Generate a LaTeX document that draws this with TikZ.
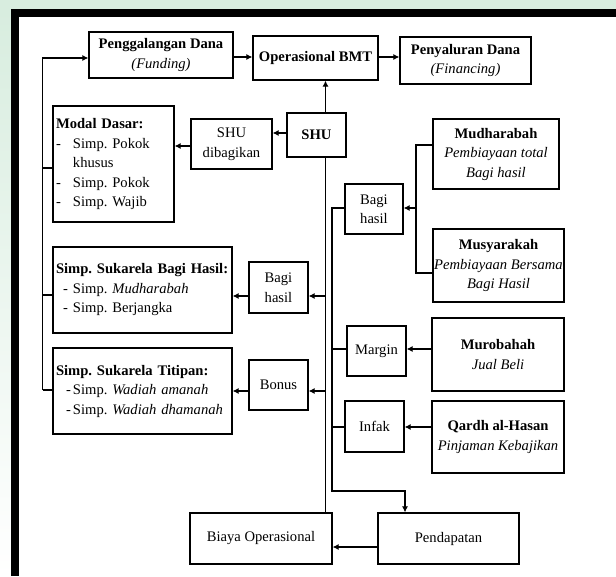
\documentclass[tikz,border=0pt]{standalone}
\usepackage{fontspec}
\setmainfont{Liberation Serif}
\usetikzlibrary{arrows.meta,calc}
\definecolor{wm}{HTML}{D8EDDF}
\frenchspacing
\begin{document}
\begin{tikzpicture}[x=1pt,y=-1pt,
  every node/.style={font=\fontsize{14.6pt}{19.5pt}\selectfont\frenchspacing},
  box/.style={draw,line width=1.2pt,inner xsep=0pt,inner ysep=1pt,align=center,anchor=center},
  lbox/.style={draw,line width=1.2pt,inner xsep=3pt,inner ysep=1pt,align=left,anchor=center},
  conn/.style={line width=1.1pt},
  arr/.style={line width=1.1pt,-{Latex[length=6pt,width=6pt]}}]
\useasboundingbox (0,0) rectangle (616,576);
\fill[white] (0,0) rectangle (616,576);
\fill[wm] (0,0) rectangle (616,9);
\shade[top color=wm,bottom color=white] (0,9) rectangle (11,576);
\fill[black] (11,9) rectangle (616,17);
\fill[black] (11,9) rectangle (19,576);

% top row
\node[box,minimum width=144pt,minimum height=46pt] (pg) at (161,55) {\textbf{Penggalangan Dana}\\\textit{(Funding)}};
\node[box,minimum width=125pt,minimum height=44pt] (ob) at (315.5,58) {\textbf{Operasional BMT}};
\node[box,minimum width=131pt,minimum height=47pt] (pd) at (465.5,60.5) {\textbf{Penyaluran Dana}\\\textit{(Financing)}};

% SHU
\node[box,minimum width=59pt,minimum height=44pt] (shu) at (316.5,135) {\textbf{SHU}};
\node[box,minimum width=81pt,minimum height=50pt] (shud) at (231.5,144) {SHU\\dibagikan};

% left column
\node[lbox,text width=115pt,minimum height=116pt] (md) at (113.5,164) {\textbf{Modal Dasar:}\\
\makebox[17pt][l]{-}Simp. Pokok\\
\hspace*{17pt}khusus\\
\makebox[17pt][l]{-}Simp. Pokok\\
\makebox[17pt][l]{-}Simp. Wajib};
\node[lbox,text width=173pt,minimum height=86pt] (sbh) at (142.5,290) {\textbf{Simp. Sukarela Bagi Hasil:}\\
\hspace*{7pt}\makebox[10pt][l]{-}Simp. \textit{Mudharabah}\\
\hspace*{7pt}\makebox[10pt][l]{-}Simp. Berjangka};
\node[lbox,text width=173pt,minimum height=86pt] (stt) at (142.5,391) {\textbf{Simp. Sukarela Titipan:}\\
\hspace*{10pt}\makebox[7pt][l]{-}Simp. \textit{Wadiah amanah}\\
\hspace*{10pt}\makebox[7pt][l]{-}Simp. \textit{Wadiah dhamanah}};

\node[box,minimum width=59pt,minimum height=51pt] (bh1) at (278.5,287.5) {Bagi\\hasil};
\node[box,minimum width=59pt,minimum height=50pt] (bon) at (278.5,385) {Bonus};

% right column
\node[box,minimum width=58pt,minimum height=50pt] (bh2) at (374,209) {Bagi\\hasil};
\node[box,minimum width=126pt,minimum height=70pt] (mud) at (496,154) {\textbf{Mudharabah}\\\textit{Pembiayaan total}\\\textit{Bagi hasil}};
\node[box,minimum width=131pt,minimum height=73pt] (mus) at (498.5,265.5) {\textbf{Musyarakah}\\\textit{Pembiayaan Bersama}\\\textit{Bagi Hasil}};
\node[box,minimum width=59pt,minimum height=50pt] (mar) at (376.5,351) {Margin};
\node[box,minimum width=132pt,minimum height=73pt] (mur) at (498,354.5) {\textbf{Murobahah}\\\textit{Jual Beli}};
\node[box,minimum width=59pt,minimum height=51pt] (inf) at (374.5,426.5) {Infak};
\node[box,minimum width=132pt,minimum height=72pt] (qar) at (498,437) {\textbf{Qardh al-Hasan}\\\textit{Pinjaman Kebajikan}};

% bottom
\node[box,minimum width=142pt,minimum height=51pt] (bo) at (261,538.5) {Biaya Operasional};
\node[box,minimum width=141pt,minimum height=51pt] (pen) at (448.5,538.5) {Pendapatan};

% coordinates
\coordinate (Ltop) at (42.7,58);
\coordinate (Lbot) at (42.7,390);
\coordinate (L1) at (42.7,168);
\coordinate (L2) at (42.7,295);
\coordinate (T) at (0,57);
\coordinate (V1) at (325.5,0);
\coordinate (V2) at (332,0);
\coordinate (B) at (416,0);
\coordinate (P) at (405,491);
\coordinate (Y133) at (0,133);
\coordinate (Y145) at (0,145);
\coordinate (Y146) at (0,146);
\coordinate (Y208) at (0,208);
\coordinate (Y273) at (0,273);
\coordinate (Y296) at (0,296);
\coordinate (Y349) at (0,349);
\coordinate (Y391) at (0,391);
\coordinate (Y427) at (0,427);
\coordinate (Y491) at (0,491);
\coordinate (Y547) at (0,547);

% left bracket
\draw[arr] (Lbot) -- (Ltop) -- (pg.west |- Ltop);
\draw[conn] (L1) -- (md.west |- L1);
\draw[conn] (L2) -- (sbh.west |- L2);
\draw[conn] (Lbot) -- (stt.west |- Lbot);

% top arrows
\draw[arr] (pg.east |- T) -- (ob.west |- T);
\draw[arr] (ob.east |- T) -- (pd.west |- T);

% SHU
\draw[arr] (shu.north -| V1) -- (ob.south -| V1);
\draw[conn] (shu.south -| V1) -- (bo.north -| V1);
\draw[arr] (shu.west |- Y133) -- (shud.east |- Y133);
\draw[arr] (shud.west |- Y146) -- (md.east |- Y146);
\draw[arr] (V1 |- Y296) -- (bh1.east |- Y296);
\draw[arr] (bh1.west |- Y296) -- (sbh.east |- Y296);
\draw[arr] (V1 |- Y391) -- (bon.east |- Y391);
\draw[arr] (bon.west |- Y391) -- (stt.east |- Y391);

% income side
\draw[arr] (bh2.west |- Y208) -- (V2 |- Y208) -- (V2 |- Y491) -- (P) -- (pen.north -| P);
\draw[conn] (V2 |- Y349) -- (mar.west |- Y349);
\draw[conn] (V2 |- Y427) -- (inf.west |- Y427);
\draw[conn] (mud.west |- Y145) -- (B |- Y145) -- (B |- Y273) -- (mus.west |- Y273);
\draw[arr] (B |- Y208) -- (bh2.east |- Y208);
\draw[arr] (mur.west |- Y349) -- (mar.east |- Y349);
\draw[arr] (qar.west |- Y427) -- (inf.east |- Y427);
\draw[arr] (pen.west |- Y547) -- (bo.east |- Y547);
\end{tikzpicture}
\end{document}
